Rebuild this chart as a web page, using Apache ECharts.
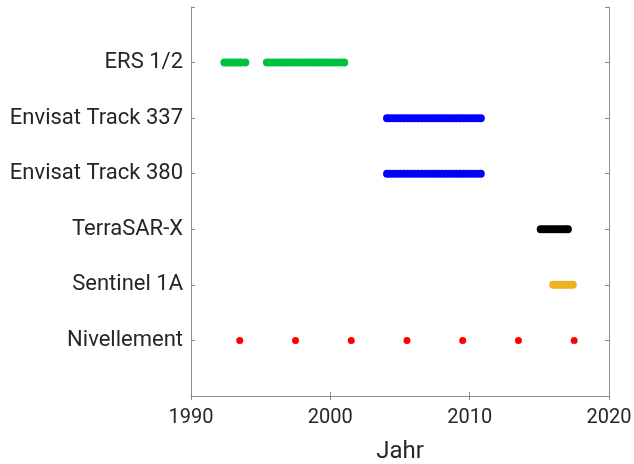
<!DOCTYPE html>
<html>
<head>
<meta charset="utf-8">
<script src="https://cdn.jsdelivr.net/npm/echarts@6/dist/echarts.min.js"></script>
<style>html,body{margin:0;padding:0;background:#fff}#c{width:634px;height:464px}</style>
</head>
<body>
<div id="c"></div>
<script>
var yLabels = ['', 'Nivellement', 'Sentinel 1A', 'TerraSAR-X', 'Envisat Track 380', 'Envisat Track 337', 'ERS 1/2', ''];
var xTicks = [1990, 2000, 2010, 2020];

var ersDates = [1992.4, 1992.6, 1992.8, 1993.0, 1993.2, 1993.4, 1993.6, 1993.9,
  1995.45, 1995.7, 1995.95, 1996.2, 1996.45, 1996.7, 1996.95, 1997.2, 1997.45, 1997.7, 1997.95,
  1998.2, 1998.45, 1998.7, 1998.95, 1999.2, 1999.45, 1999.7, 1999.95, 2000.2, 2000.45, 2000.7, 2001.0];
var env337Dates = [2004.07, 2004.3, 2004.55, 2004.8, 2005.05, 2005.3, 2005.55, 2005.8, 2006.05, 2006.3,
  2006.55, 2006.8, 2007.05, 2007.3, 2007.55, 2007.8, 2008.05, 2008.3, 2008.55, 2008.8, 2009.05,
  2009.3, 2009.55, 2009.8, 2010.05, 2010.3, 2010.55, 2010.8];
var env380Dates = [2004.07, 2004.3, 2004.55, 2004.8, 2005.05, 2005.3, 2005.55, 2005.8, 2006.05, 2006.3,
  2006.55, 2006.8, 2007.05, 2007.3, 2007.55, 2007.8, 2008.05, 2008.3, 2008.55, 2008.8, 2009.05,
  2009.3, 2009.55, 2009.8, 2010.05, 2010.3, 2010.55, 2010.8];
var tsxDates = [2015.1, 2015.3, 2015.5, 2015.7, 2015.9, 2016.1, 2016.3, 2016.5, 2016.7, 2016.9, 2017.05];
var s1aDates = [2016.0, 2016.2, 2016.4, 2016.6, 2016.8, 2017.0, 2017.2, 2017.4];
var nivDates = [1993.5, 1997.5, 2001.5, 2005.5, 2009.5, 2013.5, 2017.5];

var groups = [
  {dates: ersDates, row: 6, color: '#00C040', size: 8},
  {dates: env337Dates, row: 5, color: '#0000FF', size: 8},
  {dates: env380Dates, row: 4, color: '#0000FF', size: 8},
  {dates: tsxDates, row: 3, color: '#000000', size: 8},
  {dates: s1aDates, row: 2, color: '#EDB120', size: 8},
  {dates: nivDates, row: 1, color: '#FF0000', size: 7}
];

var series = groups.map(function (g) {
  return {
    type: 'scatter',
    symbol: 'circle',
    symbolSize: g.size,
    itemStyle: {color: g.color, opacity: 1},
    data: g.dates.map(function (d) { return [d, g.row]; }),
    animation: false
  };
});

var axisCol = '#8c8c8c';
var txtCol = '#262626';
var font = 'Roboto';

var chart = echarts.init(document.getElementById('c'), null, {renderer: 'canvas'});
chart.setOption({
  backgroundColor: '#fff',
  animation: false,
  grid: {left: 191, right: 25, top: 7, bottom: 68, containLabel: false, outerBoundsMode: 'none'},
  xAxis: [{
    type: 'value', min: 1990, max: 2020, interval: 10, position: 'bottom',
    name: 'Jahr', nameLocation: 'middle', nameGap: 44,
    nameTextStyle: {fontSize: 24, color: txtCol, fontFamily: font},
    axisLine: {show: true, lineStyle: {color: axisCol, width: 1}},
    axisTick: {show: true, inside: true, length: 4, lineStyle: {color: axisCol}},
    axisLabel: {fontSize: 20, color: txtCol, fontFamily: font, margin: 12,
      formatter: function (v) { return xTicks.indexOf(v) >= 0 ? String(v) : ''; }},
    splitLine: {show: false}
  }, {
    type: 'value', min: 1990, max: 2020, interval: 10, position: 'top',
    axisLine: {show: true, lineStyle: {color: axisCol, width: 1}},
    axisTick: {show: true, inside: true, length: 4, lineStyle: {color: axisCol}},
    axisLabel: {show: false}, splitLine: {show: false}
  }],
  yAxis: [{
    type: 'value', min: 0, max: 7, interval: 1, position: 'left',
    axisLine: {show: true, lineStyle: {color: axisCol, width: 1}},
    axisTick: {show: true, inside: true, length: 4, lineStyle: {color: axisCol}},
    axisLabel: {fontSize: 22, color: txtCol, fontFamily: font, margin: 8,
      formatter: function (v) { return yLabels[v] || ''; }},
    splitLine: {show: false}
  }, {
    type: 'value', min: 0, max: 7, interval: 1, position: 'right',
    axisLine: {show: true, lineStyle: {color: axisCol, width: 1}},
    axisTick: {show: true, inside: true, length: 4, lineStyle: {color: axisCol}},
    axisLabel: {show: false}, splitLine: {show: false}
  }],
  series: series
});
</script>
</body>
</html>
